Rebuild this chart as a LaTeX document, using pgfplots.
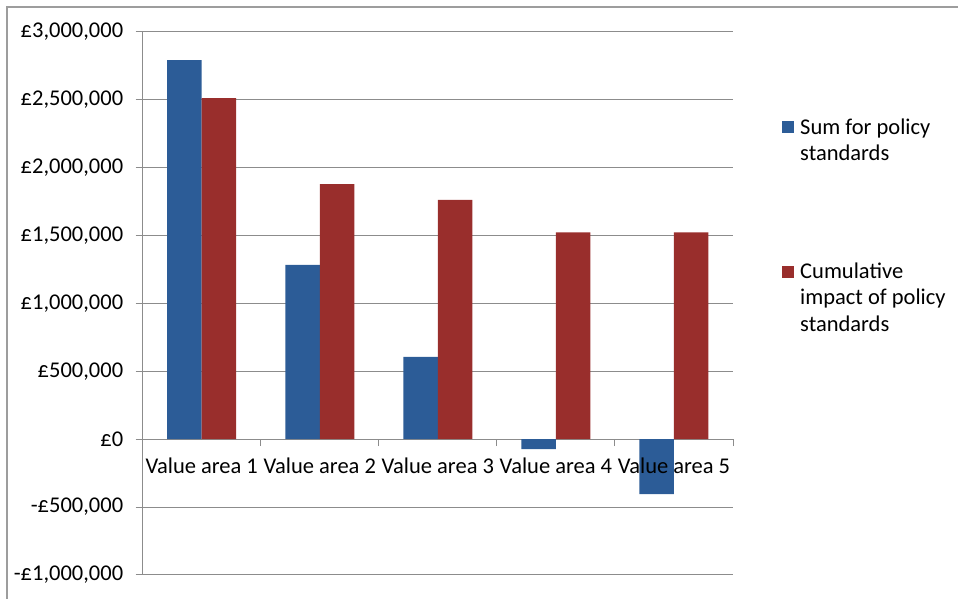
\documentclass[border=0pt]{standalone}
\usepackage{fontspec}
\setmainfont{Carlito}
\usepackage{pgfplots}
\pgfplotsset{compat=1.18}
\definecolor{cblue}{RGB}{44,92,151}
\definecolor{cred}{RGB}{153,46,44}
\definecolor{gridc}{RGB}{140,140,140}
\pgfplotsset{
  commonframe/.style={
    at={(142.7pt,24pt)}, anchor=south west, scale only axis,
    width=590.3pt, height=543.5pt,
    xmin=0.5, xmax=5.5, ymin=-1000000, ymax=3000000,
    font=\fontsize{22.5}{26.3}\selectfont,
  },
}
\begin{document}
\begin{tikzpicture}[x=1pt,y=1pt]
\useasboundingbox (0,0) rectangle (958,599);
\draw[gridc!85, line width=1.5pt] (7,0) -- (7,592) -- (958,592);
\begin{axis}[
  commonframe,
  ybar=0pt, bar width=34.5pt,
  axis x line=middle, axis y line=left,
  axis line style={gridc, line width=1pt, -},
  hide obscured x ticks=false,
  scaled y ticks=false,
  xtick={0.5,1.5,2.5,3.5,4.5,5.5}, xticklabels={},
  xtick align=outside, ytick align=outside,
  major tick length=7pt,
  tick style={gridc, line width=1pt},
  ytick={-1000000,-500000,0,500000,1000000,1500000,2000000,2500000,3000000},
  yticklabels={{-£1,000,000},{-£500,000},{£0},{£500,000},{£1,000,000},{£1,500,000},{£2,000,000},{£2,500,000},{£3,000,000}},
  ymajorgrids, grid style={gridc, line width=1pt},
  yticklabel style={font=\fontsize{22.5}{26.3}\selectfont, xshift=-9pt},
  legend style={draw=none, fill=none, at={(1,1)}, anchor=north west,
    xshift=45.7pt, yshift=-82.7pt, row sep=97pt, column sep=4.3pt,
    font=\fontsize{22.5}{26.3}\selectfont, cells={align=left}},
  legend cell align=left,
]
\addplot[fill=cblue, draw=none, legend image code/.code={\fill[cblue] (0pt,7pt) rectangle (12pt,19pt);}] coordinates {(1,2790000) (2,1282000) (3,605000) (4,-73000) (5,-404000)};
\addplot[fill=cred, draw=none, legend image code/.code={\fill[cred] (0pt,20pt) rectangle (12pt,32pt);}] coordinates {(1,2510000) (2,1876000) (3,1760000) (4,1522000) (5,1522000)};
\legend{Sum for policy\\standards, Cumulative\\impact of policy\\standards}
\end{axis}
\begin{axis}[
  commonframe,
  axis x line=middle, axis y line=none,
  axis line style={draw=none},
  xtick={1,2,3,4,5},
  xticklabels={Value area 1,Value area 2,Value area 3,Value area 4,Value area 5},
  xtick align=outside, major tick length=0pt,
  xticklabel style={font=\fontsize{22.5}{26.3}\selectfont, yshift=-15pt},
]
\end{axis}
\end{tikzpicture}
\end{document}
